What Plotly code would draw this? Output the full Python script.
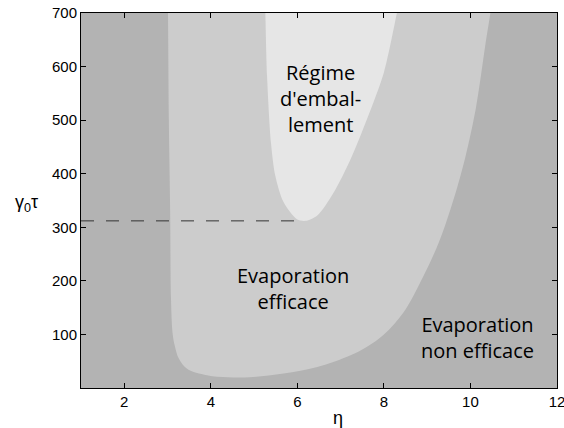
import plotly.graph_objects as go

# -----region boundaries-----
# efficient evaporation zone: left edge, bottom, right edge
eff_eta = [3.00, 3.01, 3.03, 3.06, 3.08, 3.12, 3.17, 3.26, 3.45, 3.91, 4.40, 4.90,
           5.68, 6.46, 7.23, 7.61, 8.00, 8.46, 8.92, 9.27, 9.54, 9.77, 9.96, 10.12, 10.24,
           10.35, 10.46, 10.56]
eff_gt = [760, 700, 500, 330, 166, 100, 78, 55, 36, 24, 20, 20,
          27, 39, 61, 77, 100, 142, 210, 272, 334, 396, 458, 520, 582,
          644, 700, 760]

# runaway zone
run_eta = [5.24, 5.26, 5.30, 5.39, 5.49, 5.68, 5.99, 6.19, 6.46, 6.84, 7.23, 7.61, 8.00, 8.30, 8.45]
run_gt = [760, 700, 582, 458, 396, 347, 315, 312, 322, 365, 427, 502, 589, 700, 760]

# threshold line
thr_eta = [1, 6.1]
thr_gt = [312, 312]

x_ticks = [2, 4, 6, 8, 10, 12]
y_ticks = [100, 200, 300, 400, 500, 600, 700]
# --------------------------------------------------

fig = go.Figure()
fig.add_trace(go.Scatter(x=eff_eta, y=eff_gt, fill='toself', fillcolor='#cccccc',
                         mode='lines', line=dict(width=0, shape='spline', smoothing=1.0),
                         hoverinfo='skip'))
fig.add_trace(go.Scatter(x=run_eta, y=run_gt, fill='toself', fillcolor='#e6e6e6',
                         mode='lines', line=dict(width=0, shape='spline', smoothing=0.8),
                         hoverinfo='skip'))
fig.add_trace(go.Scatter(x=thr_eta, y=thr_gt, mode='lines',
                         line=dict(color='#333333', width=1, dash='13px,12px'),
                         hoverinfo='skip'))

lab_font = dict(family='Open Sans', size=20, color='black')
fig.add_annotation(x=6.53, y=540, text="Régime<br>d'embal-<br>lement", showarrow=False, font=lab_font)
fig.add_annotation(x=5.89, y=185, text="Evaporation<br>efficace", showarrow=False, font=lab_font)
fig.add_annotation(x=10.17, y=94, text="Evaporation<br>non efficace", showarrow=False, font=lab_font)

ax_font = dict(family='Liberation Sans', size=18, color='black')
fig.add_annotation(xref='paper', yref='paper', x=0, y=0.515, xshift=-68, yshift=-9,
                   text='γ<sub>0</sub>τ', showarrow=False, font=ax_font)
fig.add_annotation(xref='x', yref='paper', x=6.93, y=0, yshift=-30, yanchor='middle', text='η',
                   showarrow=False, font=ax_font)

axis_common = dict(showgrid=False, zeroline=False, showline=True, linecolor='black', linewidth=1,
                   mirror='ticks', ticks='inside', ticklen=5, tickcolor='black',
                   ticklabeloverflow='allow', automargin=False,
                   tickfont=dict(family='Liberation Sans', size=15, color='black'))
fig.update_xaxes(range=[1, 12], tickvals=x_ticks, **axis_common)
fig.update_yaxes(range=[0, 700], tickvals=y_ticks, **axis_common)

fig.update_layout(width=564, height=428, showlegend=False,
                  plot_bgcolor='#b3b3b3', paper_bgcolor='white',
                  margin=dict(l=81, r=7, t=13, b=40))

fig.write_html("out.html", config={'displayModeBar': False},
               post_script="document.body.style.margin='0px';")
